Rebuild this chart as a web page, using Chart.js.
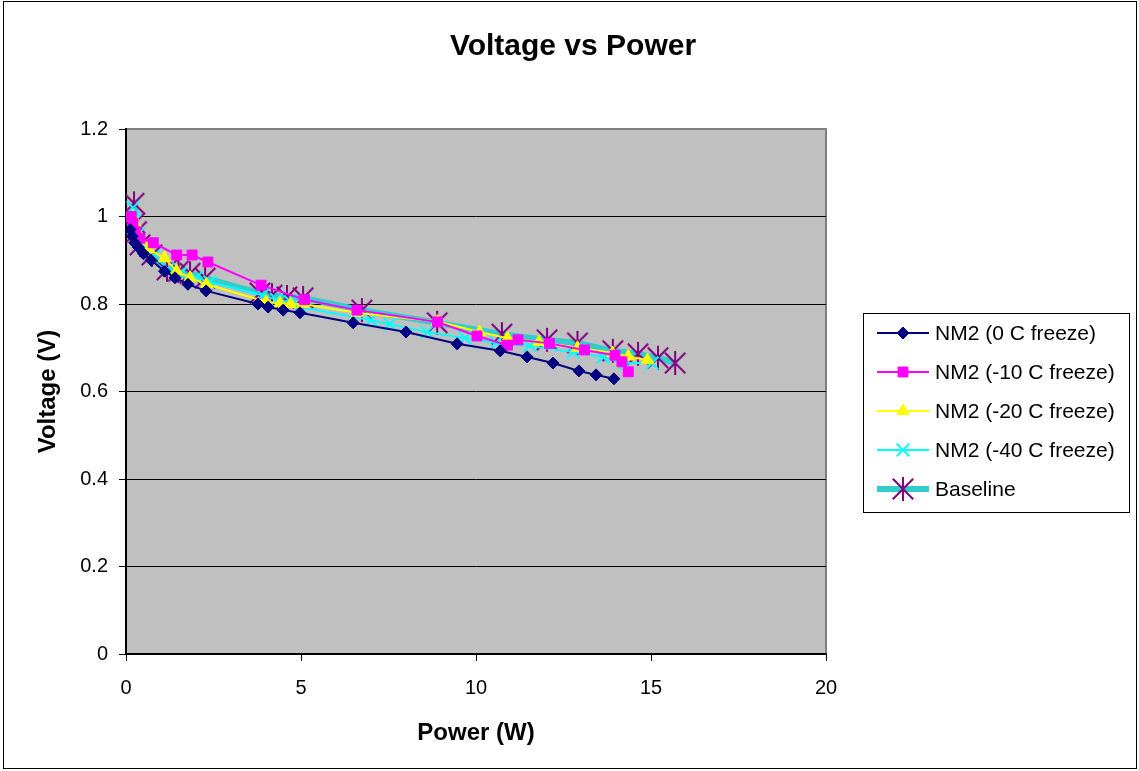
<!DOCTYPE html>
<html>
<head>
<meta charset="utf-8">
<script src="https://cdn.jsdelivr.net/npm/chart.js@4/dist/chart.umd.min.js"></script>
<style>
  html, body { margin: 0; padding: 0; background: #ffffff; }
  #wrap { width: 1139px; height: 771px; position: relative; }
</style>
</head>
<body>
<div id="wrap"><canvas id="c" width="1139" height="771"></canvas></div>
<script>
// ---------- data ----------
const seriesLabels = ['NM2 (0 C freeze)', 'NM2 (-10 C freeze)', 'NM2 (-20 C freeze)', 'NM2 (-40 C freeze)', 'Baseline'];

const power0C   = [0.12, 0.18, 0.25, 0.35, 0.5, 0.72, 1.1, 1.4, 1.77, 2.29, 3.77, 4.06, 4.49, 4.97, 6.49, 8.0, 9.46, 10.69, 11.46, 12.2, 12.94, 13.43, 13.94];
const volt0C    = [0.97, 0.955, 0.94, 0.93, 0.915, 0.9, 0.875, 0.86, 0.845, 0.83, 0.8, 0.793, 0.786, 0.78, 0.757, 0.736, 0.709, 0.693, 0.679, 0.665, 0.647, 0.638, 0.629];

const power10C  = [0.15, 0.2, 0.28, 0.4, 0.78, 1.45, 1.89, 2.34, 3.86, 5.1, 6.6, 8.9, 10.03, 10.9, 11.2, 12.1, 13.1, 13.97, 14.17, 14.35];
const volt10C   = [1.0, 0.985, 0.965, 0.95, 0.94, 0.912, 0.912, 0.896, 0.843, 0.81, 0.786, 0.759, 0.727, 0.706, 0.718, 0.71, 0.695, 0.683, 0.668, 0.645];

const power20C  = [0.2, 0.25, 0.33, 0.45, 0.65, 1.1, 1.45, 1.83, 2.3, 4.0, 4.4, 4.7, 5.06, 6.6, 8.9, 10.1, 10.9, 11.8, 12.9, 13.9, 14.35, 14.9];
const volt20C   = [1.0, 0.985, 0.965, 0.945, 0.925, 0.905, 0.875, 0.86, 0.845, 0.805, 0.802, 0.8, 0.8, 0.78, 0.76, 0.736, 0.722, 0.713, 0.7, 0.688, 0.68, 0.672];

const power40C  = [0.2, 0.25, 0.35, 0.5, 0.8, 1.2, 1.55, 2.0, 2.4, 3.9, 4.3, 4.7, 4.97, 7.0, 7.54, 8.6, 9.69, 10.57, 11.54, 12.77, 13.63, 14.26, 15.03];
const volt40C   = [1.02, 0.99, 0.96, 0.93, 0.91, 0.88, 0.87, 0.86, 0.85, 0.82, 0.81, 0.805, 0.793, 0.763, 0.754, 0.736, 0.722, 0.711, 0.704, 0.69, 0.679, 0.665, 0.665];

const powerBase = [0.23, 0.25, 0.3, 0.4, 0.74, 1.17, 1.5, 1.83, 2.26, 3.83, 4.17, 4.6, 5.06, 6.74, 8.89, 10.74, 12.03, 12.9, 13.91, 14.63, 15.2, 15.69];
const voltBase  = [1.03, 0.985, 0.965, 0.935, 0.912, 0.878, 0.875, 0.87, 0.859, 0.825, 0.82, 0.816, 0.814, 0.786, 0.757, 0.731, 0.718, 0.711, 0.693, 0.686, 0.677, 0.665];

const xTicks = [0, 5, 10, 15, 20];
const yTicks = [0, 0.2, 0.4, 0.6, 0.8, 1, 1.2];

// ---------- helpers ----------
function pts(xs, ys) { return xs.map((x, i) => ({ x: x, y: ys[i] })); }

// Excel-like asterisk marker (X plus vertical bar)
function makeStar(color, size, lw) {
  const c = document.createElement('canvas');
  c.width = size; c.height = size;
  const g = c.getContext('2d');
  g.strokeStyle = color; g.lineWidth = lw; g.lineCap = 'butt';
  const m = size / 2, r = size / 2 - 1;
  g.beginPath();
  g.moveTo(m - r * 0.85, m - r * 0.85); g.lineTo(m + r * 0.85, m + r * 0.85);
  g.moveTo(m + r * 0.85, m - r * 0.85); g.lineTo(m - r * 0.85, m + r * 0.85);
  g.moveTo(m, m - r); g.lineTo(m, m + r);
  g.stroke();
  return c;
}
const starImg = makeStar('#800080', 26, 2);

const FONT = "'Liberation Sans', Arial, Helvetica, sans-serif";

const datasets = [
  { label: seriesLabels[0], data: pts(power0C, volt0C), borderColor: '#000080', backgroundColor: '#000080',
    borderWidth: 2, pointStyle: 'rectRot', pointRadius: 6, pointBorderWidth: 1 },
  { label: seriesLabels[1], data: pts(power10C, volt10C), borderColor: '#FF00FF', backgroundColor: '#FF00FF',
    borderWidth: 2, pointStyle: 'rect', pointRadius: 7, pointBorderWidth: 1 },
  { label: seriesLabels[2], data: pts(power20C, volt20C), borderColor: '#FFFF00', backgroundColor: '#FFFF00',
    borderWidth: 2, pointStyle: 'triangle', pointRadius: 7, pointBorderWidth: 1 },
  { label: seriesLabels[3], data: pts(power40C, volt40C), borderColor: '#00FFFF', backgroundColor: '#00FFFF',
    borderWidth: 2, pointStyle: 'crossRot', pointRadius: 9, pointBorderWidth: 2 },
  { label: seriesLabels[4], data: pts(powerBase, voltBase), borderColor: '#33CCCC', backgroundColor: '#800080',
    borderWidth: 6, pointStyle: starImg, pointRadius: 13, pointBorderWidth: 2 }
];
datasets.forEach(d => { d.showLine = true; d.tension = 0; d.fill = false; d.pointHoverRadius = d.pointRadius; });

// plot background + border + outer frame + legend
const decor = {
  id: 'decor',
  beforeDraw(chart) {
    const { ctx, chartArea: a } = chart;
    ctx.save();
    ctx.fillStyle = '#ffffff';
    ctx.fillRect(0, 0, chart.width, chart.height);
    ctx.fillStyle = '#C0C0C0';
    ctx.fillRect(a.left, a.top, a.right - a.left, a.bottom - a.top);
    ctx.strokeStyle = '#808080';
    ctx.lineWidth = 2;
    ctx.strokeRect(a.left, a.top, a.right - a.left, a.bottom - a.top);
    ctx.restore();
  },
  afterDraw(chart) {
    const ctx = chart.ctx;
    ctx.save();
    // outer frame
    ctx.strokeStyle = '#000000';
    ctx.lineWidth = 1;
    ctx.strokeRect(3.5, 1.5, 1133, 767);
    // legend
    const lx = 863.5, ly = 313.5, lw = 266, lh = 199;
    ctx.fillStyle = '#ffffff';
    ctx.fillRect(lx, ly, lw, lh);
    ctx.strokeStyle = '#000000';
    ctx.strokeRect(lx, ly, lw, lh);
    ctx.font = '21px ' + FONT;
    ctx.textBaseline = 'middle';
    ctx.textAlign = 'left';
    chart.data.datasets.forEach((ds, i) => {
      const y = 333 + i * 39;
      ctx.strokeStyle = ds.borderColor;
      ctx.lineWidth = ds.borderWidth;
      ctx.beginPath(); ctx.moveTo(877, y); ctx.lineTo(929, y); ctx.stroke();
      ctx.fillStyle = ds.backgroundColor;
      ctx.strokeStyle = (i === 4) ? '#800080' : ds.borderColor;
      ctx.lineWidth = ds.pointBorderWidth;
      Chart.helpers.drawPoint(ctx, { pointStyle: ds.pointStyle, radius: ds.pointRadius, rotation: 0, borderWidth: ds.pointBorderWidth }, 903, y);
      ctx.fillStyle = '#000000';
      ctx.fillText(ds.label, 935, y + 1);
    });
    ctx.restore();
  }
};

new Chart(document.getElementById('c'), {
  type: 'scatter',
  data: { datasets: datasets },
  plugins: [decor],
  options: {
    responsive: false,
    animation: false,
    devicePixelRatio: 1,
    layout: { padding: { left: 7, right: 0, top: 0, bottom: 17 } },
    plugins: {
      legend: { display: false },
      tooltip: { enabled: false },
      title: {
        display: true, text: 'Voltage vs Power', color: '#000000',
        font: { family: FONT, size: 30, weight: 'bold' },
        padding: { top: 29, bottom: 64 }
      }
    },
    scales: {
      x: {
        type: 'linear', min: 0, max: 20,
        afterFit(s) { s.height = 100; },
        afterBuildTicks(s) { s.ticks = xTicks.map(v => ({ value: v })); },
        ticks: { color: '#000000', font: { family: FONT, size: 20 }, padding: 15, maxRotation: 0 },
        grid: { drawOnChartArea: false, tickLength: 7, color: '#000000', tickColor: '#000000' },
        border: { color: '#000000', width: 2 },
        title: { display: true, text: 'Power (W)', color: '#000000',
          font: { family: FONT, size: 24, weight: 'bold' }, padding: { top: 0, bottom: 6 } }
      },
      y: {
        type: 'linear', min: 0, max: 1.2,
        afterFit(s) { s.width = 119; },
        afterBuildTicks(s) { s.ticks = yTicks.map(v => ({ value: v })); },
        ticks: { color: '#000000', font: { family: FONT, size: 20 }, padding: 11,
          callback: v => String(Math.round(v * 10) / 10) },
        grid: { drawOnChartArea: true, tickLength: 7,
          color: ctx => (ctx.tick && ctx.tick.value >= 1.2) ? '#808080' : '#000000',
          tickColor: '#000000', lineWidth: 1 },
        border: { color: '#000000', width: 2 },
        title: { display: true, text: 'Voltage (V)', color: '#000000',
          font: { family: FONT, size: 24, weight: 'bold' }, padding: { top: 27, bottom: 0 } }
      },
      legendSpace: {
        type: 'linear', position: 'right', display: true, min: 0, max: 1,
        afterFit(s) { s.width = 313; },
        ticks: { display: false },
        grid: { display: false, drawTicks: false },
        border: { display: false },
        title: { display: false }
      }
    }
  }
});
</script>
</body>
</html>
